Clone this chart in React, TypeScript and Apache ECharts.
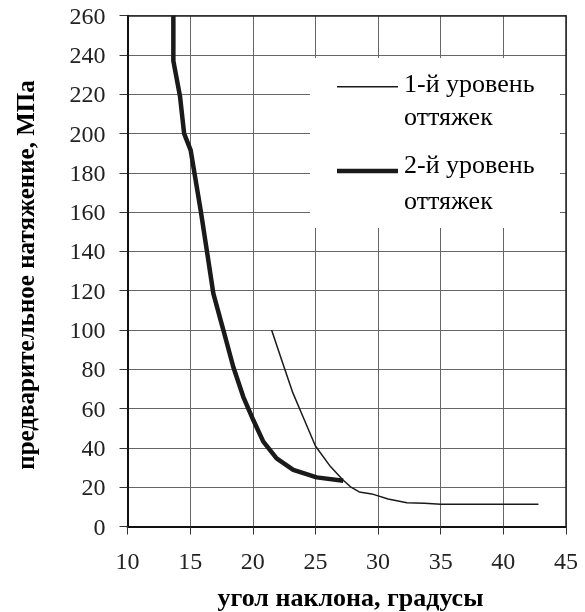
import React, { useEffect, useRef } from "react";
import * as echarts from "echarts";

// Угол наклона оттяжек, градусы (ось X) и предварительное натяжение, МПа (ось Y)
const angleLevel1 = [21.5, 22.4, 23.2, 24.0, 25.0, 26.2, 27.2, 27.8, 28.5, 29.5, 30.8, 32.3, 33.7, 35.0, 42.8];
const tensionLevel1 = [100, 83, 68, 56, 41, 30.5, 23.7, 20.2, 17.6, 16.6, 14, 12.1, 11.8, 11.3, 11.3];

const angleLevel2 = [13.66, 13.66, 14.19, 14.52, 15.04, 15.85, 16.32, 16.85, 17.65, 18.44, 19.24, 20.04, 20.84, 21.9, 23.23, 25.1, 27.22];
const tensionLevel2 = [260, 237, 219, 200, 191.6, 160.5, 141, 118.7, 100, 81.3, 66, 54.2, 43.2, 34.7, 28.8, 25, 23.3];

const seriesNames = ["1-й уровень оттяжек", "2-й уровень оттяжек"];
const xTitle = "угол наклона, градусы";
const yTitle = "предварительное натяжение, МПа";

const X_MIN = 10;
const X_MAX = 45;
const X_STEP = 5;
const Y_MIN = 0;
const Y_MAX = 260;
const Y_STEP = 20;

const SERIF = "Liberation Serif";
const INK = "#000";

const zip = (xs: number[], ys: number[]) => xs.map((x, i) => [x, ys[i]]);

// Frame line on the opposite side of the plot (top / right), no ticks or labels
const frameAxis = (position: string, min: number, max: number) => ({
  type: "value",
  position,
  min,
  max,
  axisLine: { show: true, onZero: false, lineStyle: { color: "#222", width: 1.5 } },
  axisTick: { show: false },
  axisLabel: { show: false },
  splitLine: { show: false },
});

export default function App() {
  const ref = useRef<HTMLDivElement>(null);

  useEffect(() => {
    if (!ref.current) return;
    const chart = echarts.init(ref.current, undefined, { renderer: "svg" });

    const legendText = (text: string, y: number) => ({
      type: "text",
      style: {
        text,
        x: 404,
        y,
        fontFamily: SERIF,
        fontSize: 26,
        fill: INK,
      },
    });

    chart.setOption({
      animation: false,
      grid: { left: 127.5, right: 19, top: 15.7, bottom: 85.5 },
      xAxis: [
        {
          type: "value",
          min: X_MIN,
          max: X_MAX,
          interval: X_STEP,
          axisLine: { show: true, onZero: false, lineStyle: { color: "#111", width: 2 } },
          axisTick: { show: true, length: 8, lineStyle: { color: "#333", width: 1 } },
          axisLabel: { margin: 22, color: "#222", fontFamily: SERIF, fontSize: 24 },
          splitLine: { show: true, lineStyle: { color: "#666", width: 1 } },
        },
        frameAxis("top", X_MIN, X_MAX),
      ],
      yAxis: [
        {
          type: "value",
          min: Y_MIN,
          max: Y_MAX,
          interval: Y_STEP,
          axisLine: { show: true, onZero: false, lineStyle: { color: "#111", width: 2 } },
          axisTick: { show: true, length: 8, lineStyle: { color: "#333", width: 1 } },
          axisLabel: { margin: 22, color: "#222", fontFamily: SERIF, fontSize: 24 },
          splitLine: { show: true, lineStyle: { color: "#666", width: 1 } },
        },
        frameAxis("right", Y_MIN, Y_MAX),
      ],
      series: [
        {
          name: seriesNames[0],
          type: "line",
          data: zip(angleLevel1, tensionLevel1),
          showSymbol: false,
          lineStyle: { color: "#1a1a1a", width: 1.5 },
          z: 5,
        },
        {
          name: seriesNames[1],
          type: "line",
          data: zip(angleLevel2, tensionLevel2),
          showSymbol: false,
          lineStyle: { color: "#1a1a1a", width: 4.5 },
          z: 6,
        },
      ],
      graphic: [
        {
          type: "rect",
          z: 90,
          shape: { x: 310, y: 58, width: 250, height: 170 },
          style: { fill: "#fff" },
        },
        {
          type: "line",
          z: 91,
          shape: { x1: 337, y1: 86.7, x2: 398, y2: 86.7 },
          style: { stroke: "#1a1a1a", lineWidth: 1.5 },
        },
        {
          type: "line",
          z: 91,
          shape: { x1: 337, y1: 171, x2: 398, y2: 171 },
          style: { stroke: "#1a1a1a", lineWidth: 4.5 },
        },
        { ...legendText("1-й уровень", 70), z: 92 },
        { ...legendText("оттяжек", 103), z: 92 },
        { ...legendText("2-й уровень", 151), z: 92 },
        { ...legendText("оттяжек", 187), z: 92 },
        {
          type: "text",
          z: 92,
          style: {
            text: xTitle,
            x: 350.5,
            y: 584,
            fontFamily: SERIF,
            fontWeight: "bold",
            fontSize: 26,
            fill: INK,
            align: "center",
          },
        },
        {
          type: "text",
          z: 92,
          x: 13,
          y: 275,
          rotation: Math.PI / 2,
          style: {
            text: yTitle,
            x: 0,
            y: 0,
            fontFamily: SERIF,
            fontWeight: "bold",
            fontSize: 25,
            fill: INK,
            align: "center",
          },
        },
      ],
    });

    return () => chart.dispose();
  }, []);

  return (
    <div
      ref={ref}
      style={{ position: "fixed", left: 0, top: 0, width: 585, height: 612 }}
    />
  );
}
